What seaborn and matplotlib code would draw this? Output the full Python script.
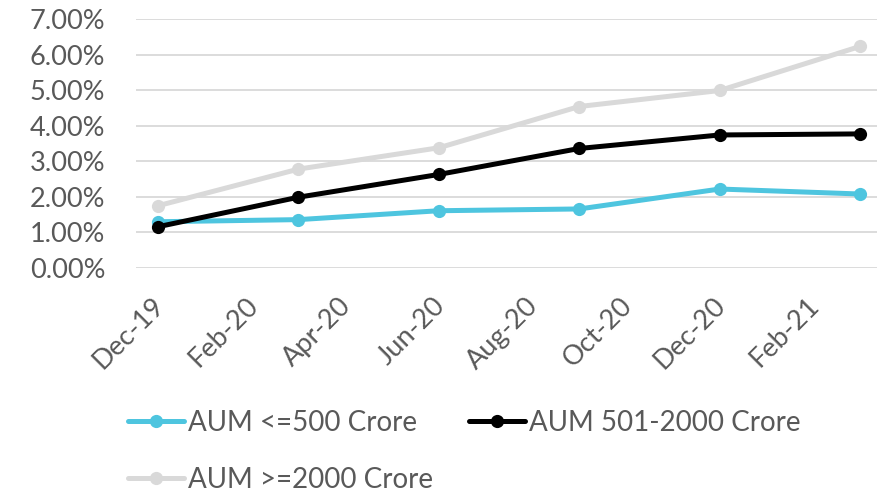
import numpy as np
import pandas as pd
import matplotlib
matplotlib.use("Agg")
import matplotlib.pyplot as plt
import matplotlib.transforms as mtransforms
from matplotlib.ticker import PercentFormatter
import seaborn as sns

# Quarter-end observations, as months since Dec-19
periods = ["Dec-19", "Mar-20", "Jun-20", "Sep-20", "Dec-20", "Mar-21"]
month_index = [0, 3, 6, 9, 12, 15]

aum_small = [1.30, 1.36, 1.61, 1.66, 2.22, 2.08]   # AUM <=500 Crore (%)
aum_mid = [1.16, 1.99, 2.63, 3.36, 3.74, 3.77]     # AUM 501-2000 Crore (%)
aum_large = [1.75, 2.78, 3.38, 4.54, 4.99, 6.23]   # AUM >=2000 Crore (%)

series_names = ["AUM <=500 Crore", "AUM 501-2000 Crore", "AUM >=2000 Crore"]
series_colors = ["#4EC5DF", "#000000", "#D9D9D9"]

# Two-monthly date labels
tick_labels = ["Dec-19", "Feb-20", "Apr-20", "Jun-20",
               "Aug-20", "Oct-20", "Dec-20", "Feb-21"]
tick_months = [0, 2, 4, 6, 8, 10, 12, 14]
y_ticks = [0, 1, 2, 3, 4, 5, 6, 7]

df = pd.concat(
    [pd.DataFrame({"period": periods, "month": month_index, "value": vals, "segment": name})
     for name, vals in zip(series_names, [aum_small, aum_mid, aum_large])],
    ignore_index=True,
)

sns.set_theme(style="white")
plt.rcParams["font.family"] = ["Lato", "DejaVu Sans"]
text_color = "#595959"

fig = plt.figure(figsize=(8.77, 4.95), dpi=100)
ax = fig.add_axes([136 / 877, 1 - 268 / 495, 741 / 877, 249 / 495])

sns.lineplot(
    data=df, x="month", y="value", hue="segment",
    hue_order=series_names, palette=series_colors,
    marker="o", markersize=9.5, markeredgewidth=0,
    linewidth=3.6, ax=ax, legend=True,
)

ax.set_ylim(0, 7)
ax.set_xlim(-0.47, 15.36)
ax.set_yticks(y_ticks)
ax.yaxis.set_major_formatter(PercentFormatter(xmax=100, decimals=2))
ax.grid(axis="y", color="#D9D9D9", linewidth=1.3)
ax.grid(axis="x", visible=False)
ax.set_axisbelow(True)
for s in ax.spines.values():
    s.set_visible(False)

ax.set_xticks(tick_months)
ax.set_xticklabels(tick_labels, rotation=45, ha="right", va="top")
ax.tick_params(axis="x", length=0, pad=18, labelsize=19.5, labelcolor=text_color)
ax.tick_params(axis="y", length=0, pad=22, labelsize=19.5, labelcolor=text_color)
# nudge the slanted labels so their ends sit just past each tick
shift = mtransforms.ScaledTranslation(0.11, 0, fig.dpi_scale_trans)
for lbl in ax.get_xticklabels():
    lbl.set_transform(lbl.get_transform() + shift)
ax.set_xlabel("")
ax.set_ylabel("")

# Legend laid out row by row: two entries on top, the third below
handles, labels = ax.get_legend_handles_labels()
ax.legend_.remove()
order = [0, 2, 1]
fig.legend(
    [handles[i] for i in order], [labels[i] for i in order],
    loc="upper left", ncol=2, frameon=False,
    bbox_to_anchor=(128 / 877, 1 - 410 / 495), bbox_transform=fig.transFigure,
    borderpad=0, borderaxespad=0, handlelength=2.0, handletextpad=0.15,
    columnspacing=1.3, labelspacing=1.1, fontsize=20, labelcolor=text_color,
)

fig.savefig("out.png", dpi=100)
